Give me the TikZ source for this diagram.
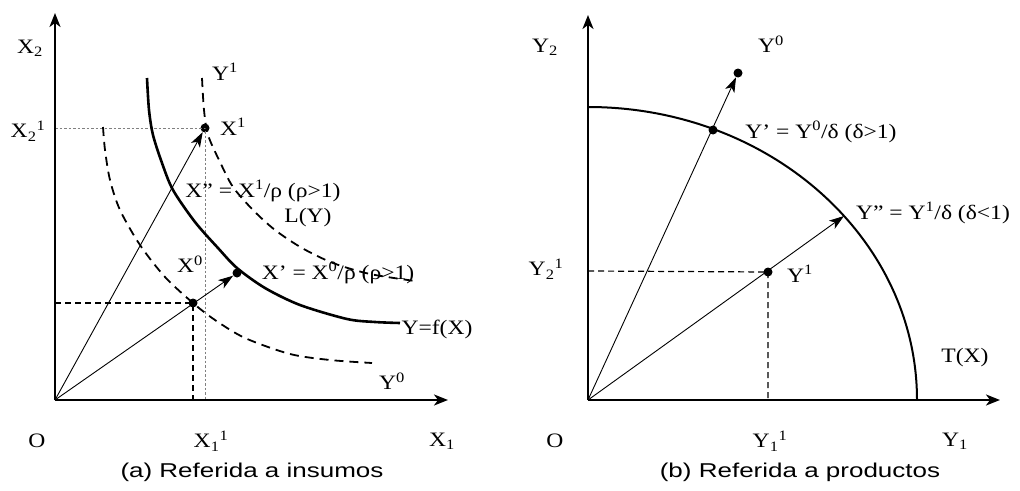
\documentclass[tikz,border=0pt]{standalone}
\usepackage{fontspec}
\setmainfont{Liberation Serif}[FakeStretch=1.15]
\newfontfamily\capfont{Liberation Sans}[FakeStretch=1.3]
\usetikzlibrary{arrows.meta}

\begin{document}
\begin{tikzpicture}[x=1pt,y=-1pt,>={Stealth[length=15pt,width=10pt,inset=4pt]},
lbl/.style={font=\fontsize{20.5}{22}\selectfont,inner sep=0pt},
caption/.style={font=\capfont\fontsize{20}{22}\selectfont,inner sep=0pt},
axis/.style={line width=2pt,-{Stealth[length=14pt,width=11pt,inset=4pt]}},
ray/.style={line width=0.9pt,->},
isoq/.style={line width=1.8pt,dash pattern=on 9pt off 6pt},
guide/.style={line width=1.2pt,dash pattern=on 6pt off 4pt},
faint/.style={gray,line width=0.7pt,dash pattern=on 2.5pt off 2pt},
punto/.style={circle,fill,inner sep=0pt,minimum size=9pt}]
\useasboundingbox (0,0) rectangle (1020,490);

% (a) insumos
\coordinate (o1) at (55,400);
\coordinate (x1end) at (448,400);
\coordinate (x2end) at (55,13);
\coordinate (x2a) at (55,128);
\coordinate (x1a) at (205,400);
\coordinate (x2b) at (55,303);
\coordinate (x1b) at (193,400);
\node[punto] (x1) at (205,128) {};
\node[punto] (x0) at (193,303) {};
\node[punto] (xp) at (237,273) {};

\draw[faint] (x2a) -- (x1.center) -- (x1a);
\draw[guide] (x2b) -- (x0.center) -- (x1b);
\draw[line width=2.6pt] plot[smooth] coordinates {(147,78) (149,110) (153,135) (162,163) (173,190)
  (195,222) (218,248) (237,268) (265,288) (300,305) (347,319) (375,322) (400,323)};
\draw[isoq] plot[smooth] coordinates {(202,78) (204,110) (208,135) (220,162) (233,187)
  (253,210) (275,230) (302,248) (333,263) (370,274) (415,281)};
\draw[isoq] plot[smooth] coordinates {(103,127) (105,150) (110,180) (120,210) (140,245)
  (165,277) (193,303) (215,320) (245,338) (290,354) (330,360) (372,363)};
\draw[axis] (o1) -- (x2end);
\draw[axis] (o1) -- (x1end);
\draw[ray] (o1) -- (x1);
\draw[ray] (o1) -- (xp);

\node[lbl] (lx2) at (30,48) {X\textsubscript{2}};
\node[lbl] (lx21) at (28,131) {X\textsubscript{2}\textsuperscript{1}};
\node[lbl] (lo1) at (37,441) {O};
\node[lbl] (lx11) at (211,441) {X\textsubscript{1}\textsuperscript{1}};
\node[lbl] (lx1) at (442,441) {X\textsubscript{1}};
\node[lbl] (ly1) at (225,72) {Y\textsuperscript{1}};
\node[lbl] (lx1pt) at (233,127) {X\textsuperscript{1}};
\node[lbl] (lxpp) at (263,191) {X” = X\textsuperscript{1}/ρ (ρ>1)};
\node[lbl] (lly) at (308,218) {L(Y)};
\node[lbl] (lx0) at (190,264) {X\textsuperscript{0}};
\node[lbl] (lxp) at (338,273) {X’ = X\textsuperscript{0}/ρ (ρ>1)};
\node[lbl] (lf) at (437,329) {Y=f(X)};
\node[lbl] (ly0) at (392,381) {Y\textsuperscript{0}};
\node[caption] (capa) at (252,472) {(a) Referida a insumos};

% (b) productos
\coordinate (o2) at (588,400);
\coordinate (y1end) at (1000,400);
\coordinate (y2end) at (588,15);
\coordinate (t0) at (588,107);
\coordinate (y2a) at (588,271);
\coordinate (y1a) at (768,400);
\coordinate (ypp) at (844,216);
\node[punto] (y0) at (738,73) {};
\node[punto] (yp) at (713,130) {};
\node[punto] (y1) at (768,272) {};

\draw[guide] (y2a) -- (y1.center) -- (y1a);
\draw[line width=2pt] (t0) arc[start angle=90,end angle=0,x radius=329pt,y radius=293pt];
\draw[axis] (o2) -- (y2end);
\draw[axis] (o2) -- (y1end);
\draw[ray] (o2) -- (y0);
\draw[ray] (o2) -- (ypp);

\node[lbl] (ly2) at (545,47) {Y\textsubscript{2}};
\node[lbl] (ly0b) at (771,44) {Y\textsuperscript{0}};
\node[lbl] (lyp) at (821,132) {Y’ = Y\textsuperscript{0}/δ (δ>1)};
\node[lbl] (lypp) at (933,213) {Y” = Y\textsuperscript{1}/δ (δ<1)};
\node[lbl] (ly21) at (546,269) {Y\textsubscript{2}\textsuperscript{1}};
\node[lbl] (ly1b) at (800,274) {Y\textsuperscript{1}};
\node[lbl] (ltx) at (965,358) {T(X)};
\node[lbl] (lo2) at (555,441) {O};
\node[lbl] (ly11) at (770,441) {Y\textsubscript{1}\textsuperscript{1}};
\node[lbl] (ly1e) at (955,441) {Y\textsubscript{1}};
\node[caption] (capb) at (800,472) {(b) Referida a productos};
\end{tikzpicture}
\end{document}
